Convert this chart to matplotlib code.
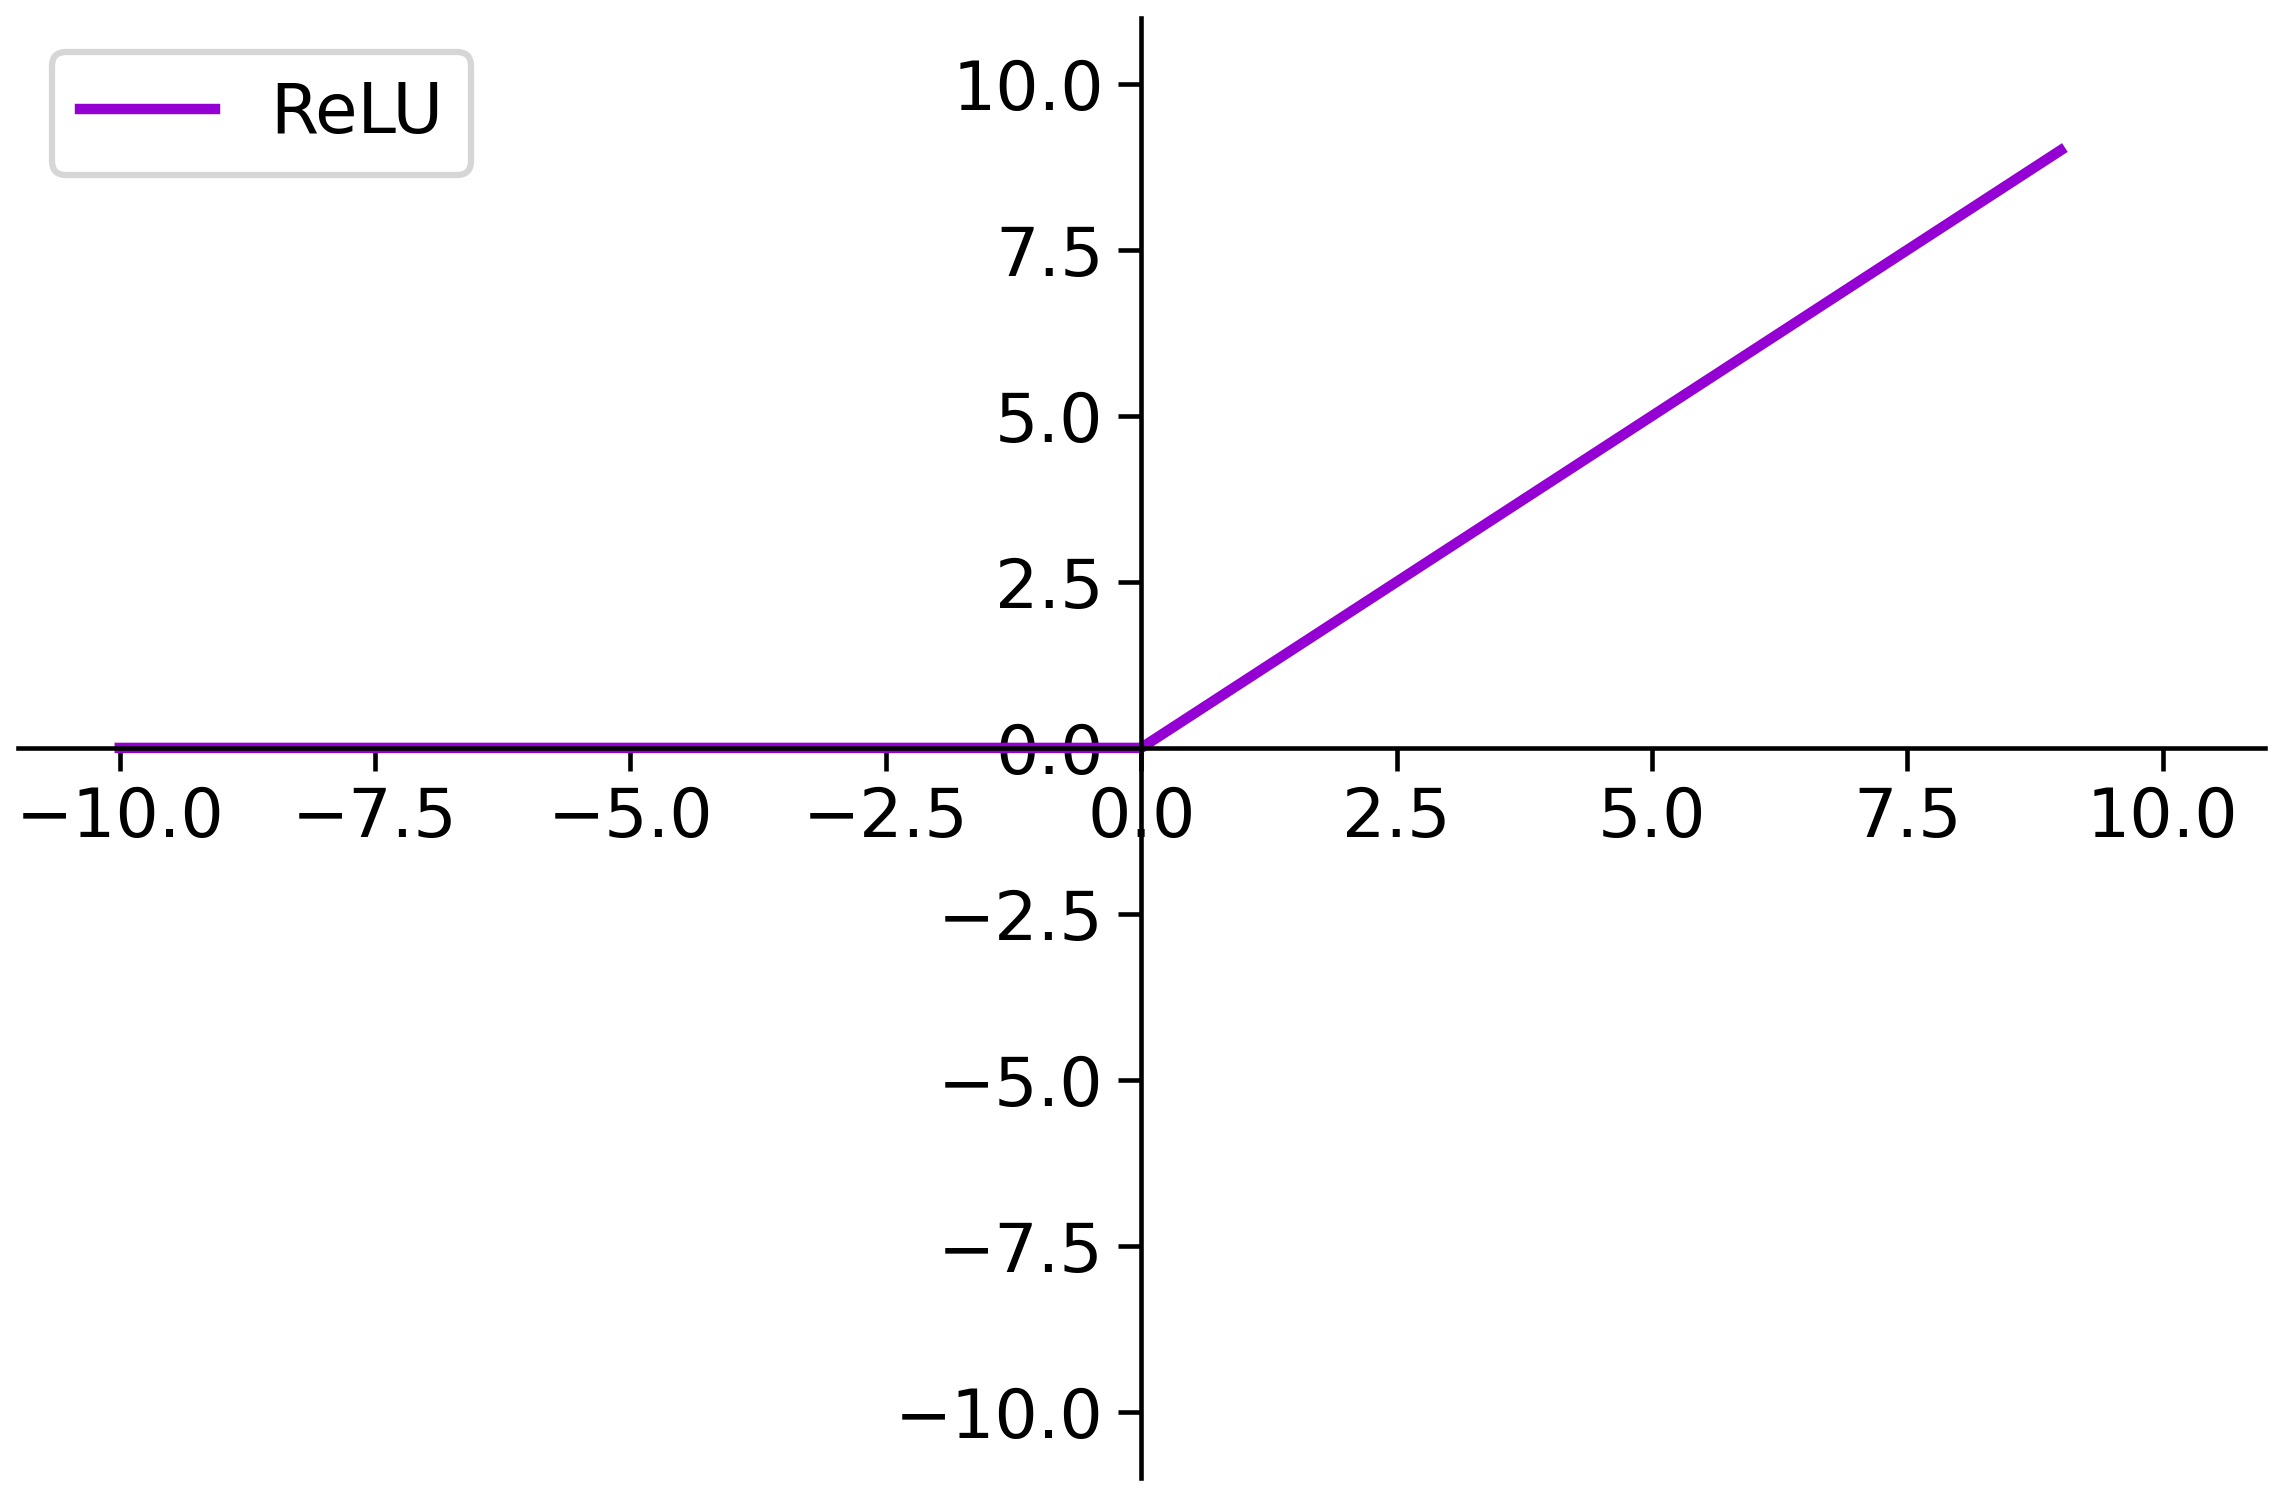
import numpy as np
import matplotlib
matplotlib.use("Agg")
import matplotlib.pyplot as plt

# ReLU sampled at integer points
x = [-10, -9, -8, -7, -6, -5, -4, -3, -2, -1, 0, 1, 2, 3, 4, 5, 6, 7, 8, 9]
y = [0, 0, 0, 0, 0, 0, 0, 0, 0, 0, 0, 1, 2, 3, 4, 5, 6, 7, 8, 9]
ticks = [-10.0, -7.5, -5.0, -2.5, 0.0, 2.5, 5.0, 7.5, 10.0]

fig = plt.figure(figsize=(2287 / 300, 1503 / 300), dpi=300)
ax = fig.add_axes([0.0077, 0.0165, 0.9826, 0.9718])

ax.plot(x, y, color='darkviolet', linewidth=2.5, label='ReLU')

ax.set_xlim(-11, 11)
ax.set_ylim(-11, 11)
ax.set_xticks(ticks)
ax.set_yticks(ticks)
ax.tick_params(labelsize=16.4, length=5.5, width=1.1)

ax.spines['left'].set_position('zero')
ax.spines['bottom'].set_position('zero')
ax.spines['right'].set_visible(False)
ax.spines['top'].set_visible(False)
ax.spines['left'].set_linewidth(1.1)
ax.spines['bottom'].set_linewidth(1.1)

leg = ax.legend(loc='upper left', fontsize=16.6, handlelength=1.95)
leg.get_frame().set_linewidth(1.5)

fig.savefig('out.png', dpi=300)
